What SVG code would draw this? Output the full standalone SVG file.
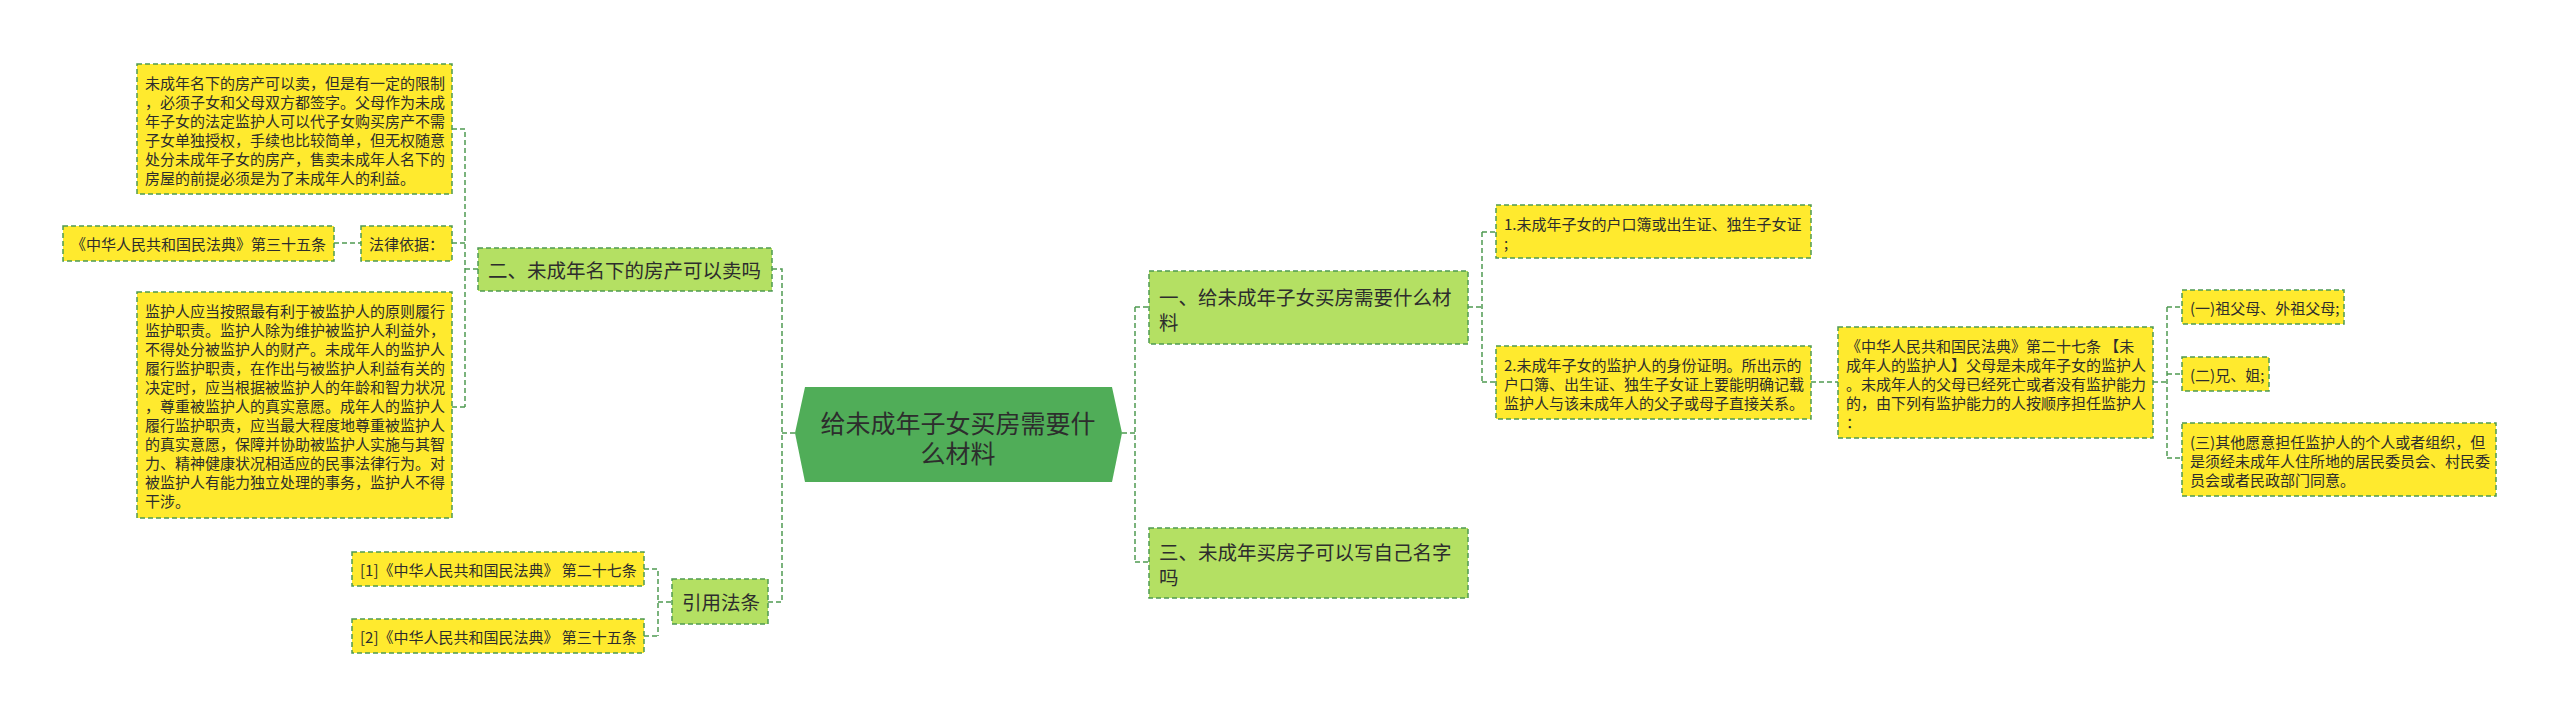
<svg xmlns="http://www.w3.org/2000/svg" width="2560" height="717" viewBox="0 0 2560 717">
<style>
.bg{fill:#ffffff}
.y{fill:#ffea2e;stroke:#4f9a52;stroke-width:1.5;stroke-dasharray:5 3}
.g{fill:#b4e063;stroke:#4f9a52;stroke-width:1.5;stroke-dasharray:5 3}
.c{fill:#50ad58}
.t{font-family:"Noto Sans CJK SC","Noto Sans",sans-serif;fill:#2d2d2d;dominant-baseline:central}
.ts{font-size:15px}
.tm{font-size:19.5px}
.tl{font-size:25px;text-anchor:middle}
.ln{fill:none;stroke:#4f9a52;stroke-width:1.5;stroke-dasharray:5 3}
</style>
<rect class="bg" x="0" y="0" width="2560" height="717"/>
<g id="connectors">
<path class="ln" d="M452 129H465V407M452 243H465M452 407H465M465 269H478"/>
<path class="ln" d="M334 243H361"/>
<path class="ln" d="M772 269H782V602M795 433H782M768 602H782"/>
<path class="ln" d="M644 569H658V636M644 636H658M658 602H672"/>
<path class="ln" d="M1122 433H1135M1135 307V562M1135 307H1149M1135 562H1149"/>
<path class="ln" d="M1468 307H1482M1482 232V382M1482 232H1496M1482 382H1496"/>
<path class="ln" d="M1811 382H1838"/>
<path class="ln" d="M2153 382H2167M2167 307V458M2167 307H2182M2167 374H2182M2167 458H2182"/>
</g>
<g id="center">
<polygon class="c" points="795,433 805,387 1112,387 1122,433 1112,482 805,482"/>
<text class="t tl" x="958" y="422">给未成年子女买房需要什</text>
<text class="t tl" x="958" y="452">么材料</text>
</g>
<g id="n2">
<rect class="g" x="478" y="248" width="294" height="43"/>
<text class="t tm" x="488" y="269.5">二、未成年名下的房产可以卖吗</text>
</g>
<g id="a">
<rect class="y" x="137" y="64" width="315" height="130"/>
<text class="t ts" x="145" y="82">未成年名下的房产可以卖，但是有一定的限制</text>
<text class="t ts" x="145" y="101">，必须子女和父母双方都签字。父母作为未成</text>
<text class="t ts" x="145" y="120">年子女的法定监护人可以代子女购买房产不需</text>
<text class="t ts" x="145" y="139">子女单独授权，手续也比较简单，但无权随意</text>
<text class="t ts" x="145" y="158">处分未成年子女的房产，售卖未成年人名下的</text>
<text class="t ts" x="145" y="177">房屋的前提必须是为了未成年人的利益。</text>
</g>
<g id="b2">
<rect class="y" x="361" y="226" width="91" height="35"/>
<text class="t ts" x="369" y="243.5">法律依据：</text>
</g>
<g id="b1">
<rect class="y" x="63" y="226" width="271" height="35"/>
<text class="t ts" x="71" y="243.5">《中华人民共和国民法典》第三十五条</text>
</g>
<g id="c">
<rect class="y" x="137" y="292" width="315" height="226"/>
<text class="t ts" x="145" y="310">监护人应当按照最有利于被监护人的原则履行</text>
<text class="t ts" x="145" y="329">监护职责。监护人除为维护被监护人利益外，</text>
<text class="t ts" x="145" y="348">不得处分被监护人的财产。未成年人的监护人</text>
<text class="t ts" x="145" y="367">履行监护职责，在作出与被监护人利益有关的</text>
<text class="t ts" x="145" y="386">决定时，应当根据被监护人的年龄和智力状况</text>
<text class="t ts" x="145" y="405">，尊重被监护人的真实意愿。成年人的监护人</text>
<text class="t ts" x="145" y="424">履行监护职责，应当最大程度地尊重被监护人</text>
<text class="t ts" x="145" y="443">的真实意愿，保障并协助被监护人实施与其智</text>
<text class="t ts" x="145" y="462">力、精神健康状况相适应的民事法律行为。对</text>
<text class="t ts" x="145" y="481">被监护人有能力独立处理的事务，监护人不得</text>
<text class="t ts" x="145" y="500">干涉。</text>
</g>
<g id="n4">
<rect class="g" x="672" y="579" width="96" height="45"/>
<text class="t tm" x="682" y="601.5">引用法条</text>
</g>
<g id="d1">
<rect class="y" x="352" y="552" width="292" height="34"/>
<text class="t ts" x="360" y="569">[1]《中华人民共和国民法典》 第二十七条</text>
</g>
<g id="d2">
<rect class="y" x="352" y="619" width="292" height="34"/>
<text class="t ts" x="360" y="636">[2]《中华人民共和国民法典》 第三十五条</text>
</g>
<g id="n1">
<rect class="g" x="1149" y="271" width="319" height="73"/>
<text class="t tm" x="1159" y="296">一、给未成年子女买房需要什么材</text>
<text class="t tm" x="1159" y="321">料</text>
</g>
<g id="n3">
<rect class="g" x="1149" y="528" width="319" height="70"/>
<text class="t tm" x="1159" y="551">三、未成年买房子可以写自己名字</text>
<text class="t tm" x="1159" y="576">吗</text>
</g>
<g id="e1">
<rect class="y" x="1496" y="205" width="315" height="53"/>
<text class="t ts" x="1504" y="223">1.未成年子女的户口簿或出生证、独生子女证</text>
<text class="t ts" x="1504" y="242">;</text>
</g>
<g id="e2">
<rect class="y" x="1496" y="346" width="315" height="73"/>
<text class="t ts" x="1504" y="364">2.未成年子女的监护人的身份证明。所出示的</text>
<text class="t ts" x="1504" y="383">户口簿、出生证、独生子女证上要能明确记载</text>
<text class="t ts" x="1504" y="402">监护人与该未成年人的父子或母子直接关系。</text>
</g>
<g id="f">
<rect class="y" x="1838" y="327" width="315" height="111"/>
<text class="t ts" x="1846" y="345">《中华人民共和国民法典》第二十七条 【未</text>
<text class="t ts" x="1846" y="364">成年人的监护人】父母是未成年子女的监护人</text>
<text class="t ts" x="1846" y="383">。未成年人的父母已经死亡或者没有监护能力</text>
<text class="t ts" x="1846" y="402">的，由下列有监护能力的人按顺序担任监护人</text>
<text class="t ts" x="1846" y="421">：</text>
</g>
<g id="g1">
<rect class="y" x="2182" y="290" width="162" height="34"/>
<text class="t ts" x="2190" y="307">(一)祖父母、外祖父母;</text>
</g>
<g id="g2">
<rect class="y" x="2182" y="357" width="87" height="34"/>
<text class="t ts" x="2190" y="374">(二)兄、姐;</text>
</g>
<g id="g3">
<rect class="y" x="2182" y="423" width="314" height="73"/>
<text class="t ts" x="2190" y="441">(三)其他愿意担任监护人的个人或者组织，但</text>
<text class="t ts" x="2190" y="460">是须经未成年人住所地的居民委员会、村民委</text>
<text class="t ts" x="2190" y="479">员会或者民政部门同意。</text>
</g>
</svg>
